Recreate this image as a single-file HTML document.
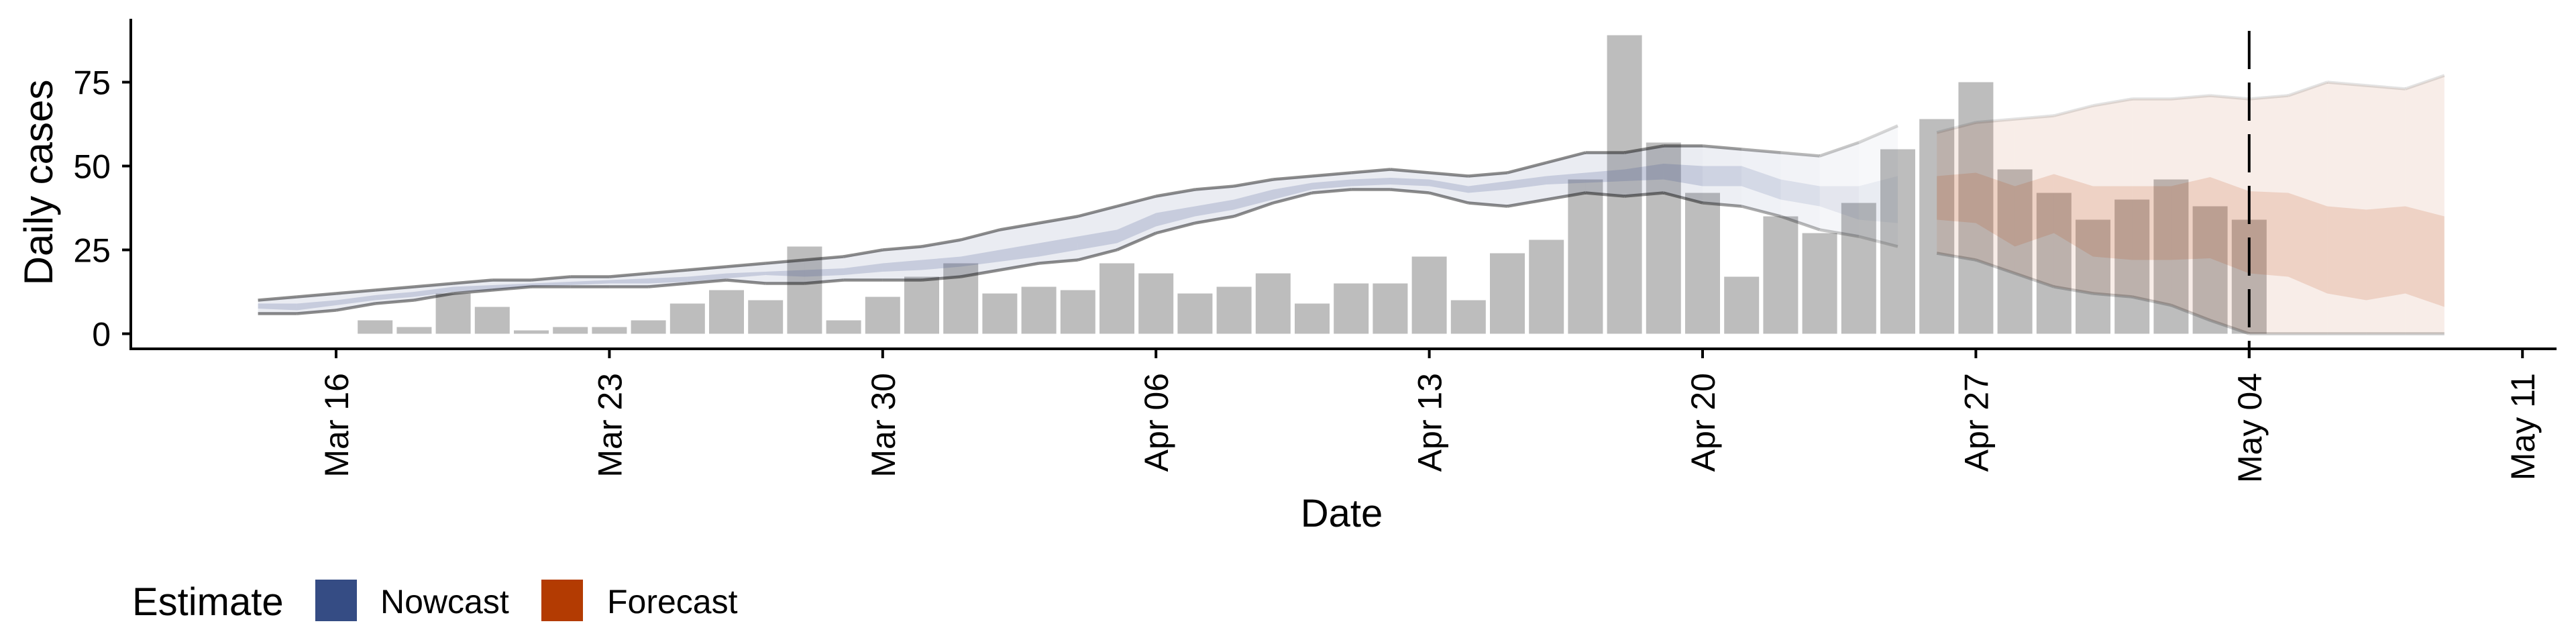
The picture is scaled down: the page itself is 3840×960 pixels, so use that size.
<!DOCTYPE html>
<html><head><meta charset="utf-8"><style>
html,body{margin:0;padding:0;background:#fff;}
svg{display:block;font-family:"Liberation Sans",Arial,sans-serif;}
</style></head><body>
<svg id="chart" width="3840" height="960" viewBox="0 0 3840 960" xmlns="http://www.w3.org/2000/svg">
<g id="bars"></g>
<g id="ribbons"></g>
<g id="lines"></g>
<g id="axes"></g>
<text x="2000" y="785" font-size="58" text-anchor="middle">Date</text>
<text transform="translate(78,272) rotate(-90)" font-size="60" text-anchor="middle">Daily cases</text>
<g>
<text x="197" y="917" font-size="58">Estimate</text>
<rect x="470" y="864" width="62" height="62" fill="#354c84"/>
<text x="567" y="914" font-size="50">Nowcast</text>
<rect x="807" y="864" width="62" height="62" fill="#b33b02"/>
<text x="905" y="914" font-size="50">Forecast</text>
</g>
</svg>
<script>
// day index: 0 = Mar 16
const barStart = 1; // Mar 17
const caseCounts = [4,2,12,8,1,2,2,4,9,13,10,26,4,11,17,21,12,14,13,21,18,12,14,18,9,15,15,23,10,24,28,46,89,57,42,17,35,30,39,55,64,75,49,42,34,40,46,38,34];
const nowStart = -2; // Mar 14
const nowUpper90 = [10,11,12,13,14,15,16,16,17,17,18,19,20,21,22,23,25,26,28,31,33,35,38,41,43,44,46,47,48,49,48,47,48,51,54,54,56,56,55,54,53,57,62];
const nowLower90 = [6,6,7,9,10,12,13,14,14,14,14,15,16,15,15,16,16,16,17,19,21,22,25,30,33,35,39,42,43,43,42,39,38,40,42,41,42,39,38,35,31,29,26];
const nowUpper50 = [9,9,10,11.5,12.5,14,14.5,15,15.5,16,16.5,17,18,18.5,19,19.5,21,22,23,25,27,29,31,36,38,40,43,45,46,46.5,46,44,45.5,47,48,49,50.7,50,50,46,44,44,47];
const nowLower50 = [7.5,7,8.5,10,11,12.5,13,14,14.5,15,15,15.5,16.5,17.5,17,17.5,18.5,19,20,21.5,23,25,27,32,35,37,40,43,44,44.5,44,42,43,44.5,45,45.5,46,44,44,40,38,34,33];
const fcStart = 41; // Apr 26
const fcUpper90 = [60,63,64,65,68,70,70,71,70,71,75,74,73,77];
const fcLower90 = [24,22,18,14,12,11,8.5,4,0,0,0,0,0,0];
const fcUpper50 = [47,48,44,47.6,44,44,44,46.7,42.5,42,38,37,38,35];
const fcLower50 = [34,33,26,30,23,22,22,22.5,18,17,12,10,12,8];
const yTicks = [0,25,50,75];
const xTickLabels = ["Mar 16","Mar 23","Mar 30","Apr 06","Apr 13","Apr 20","Apr 27","May 04","May 11"];
const forecastDateIdx = 49; // May 04

const NS="http://www.w3.org/2000/svg";
const X=d=>501+58.2*d;
const Y=v=>497.5-5*v;
function mk(tag,attrs,parent){const e=document.createElementNS(NS,tag);for(const k in attrs)e.setAttribute(k,attrs[k]);parent.appendChild(e);return e;}
const gB=document.getElementById('bars'),gR=document.getElementById('ribbons'),gL=document.getElementById('lines'),gA=document.getElementById('axes');

caseCounts.forEach((v,i)=>{const d=barStart+i;
 const r=mk('rect',{x:X(d)-26,y:Y(v),width:52,height:Y(0)-Y(v),fill:'#bdbdbd'},gB);
 
 });

function fadeNow(i){const d=nowStart+i; if(d<35)return 1; return Math.max(0.25,1-(d-34)*0.13);}
function ribbon(start,up,lo,fill,op,name){
 for(let i=0;i<up.length-1;i++){const d=start+i;
  const pts=[[X(d),Y(up[i])],[X(d+1),Y(up[i+1])],[X(d+1),Y(lo[i+1])],[X(d),Y(lo[i])]].map(p=>p.join(',')).join(' ');
  const p=mk('polygon',{points:pts,fill:fill,'fill-opacity':op(i)},gR);
  
  }}
ribbon(nowStart,nowUpper90,nowLower90,'#3c508c',i=>0.11*fadeNow(i),'nowcast-90-band');
ribbon(nowStart,nowUpper50,nowLower50,'#3c508c',i=>0.2*fadeNow(i),'nowcast-50-band');
ribbon(fcStart,fcUpper90,fcLower90,'#b33b02',()=>0.09,'forecast-90-band');
ribbon(fcStart,fcUpper50,fcLower50,'#b33b02',()=>0.15,'forecast-50-band');

function line(start,vals,col,op,name){
 for(let i=0;i<vals.length-1;i++){const d=start+i;
  const l=mk('line',{x1:X(d),y1:Y(vals[i]),x2:X(d+1),y2:Y(vals[i+1]),stroke:col,'stroke-width':4.5,'stroke-opacity':op(i),'stroke-linecap':'butt'},gL);
  
  }}
line(nowStart,nowUpper90,'#000',i=>0.45*fadeNow(i),'nowcast-upper-line');
line(nowStart,nowLower90,'#000',i=>0.45*fadeNow(i),'nowcast-lower-line');
line(fcStart,fcUpper90,'#000',()=>0.11,'forecast-upper-line');
line(fcStart,fcLower90,'#000',()=>0.2,'forecast-lower-line');

// axes
const ya=mk('line',{x1:195,y1:28,x2:195,y2:522,stroke:'#000','stroke-width':4},gA);

const xa=mk('line',{x1:193,y1:520,x2:3811,y2:520,stroke:'#000','stroke-width':4},gA);

yTicks.forEach(v=>{
 const t=mk('line',{x1:182,y1:Y(v),x2:195,y2:Y(v),stroke:'#000','stroke-width':4},gA);
 
 const tx=mk('text',{x:165,y:Y(v)+18,'font-size':50,'text-anchor':'end',fill:'#000'},gA);
 tx.textContent=v;
 });
xTickLabels.forEach((lab,i)=>{const x=X(i*7);
 const t=mk('line',{x1:x,y1:520,x2:x,y2:534,stroke:'#000','stroke-width':4},gA);
 
 const tx=mk('text',{transform:`translate(${x+18},556) rotate(-90)`,'font-size':50,'text-anchor':'end',fill:'#000'},gA);
 tx.textContent=lab;
 });
const dl=mk('line',{x1:X(forecastDateIdx),y1:46,x2:X(forecastDateIdx),y2:534,stroke:'#000','stroke-width':4,'stroke-dasharray':'57 20'},gA);

</script>
</body></html>
